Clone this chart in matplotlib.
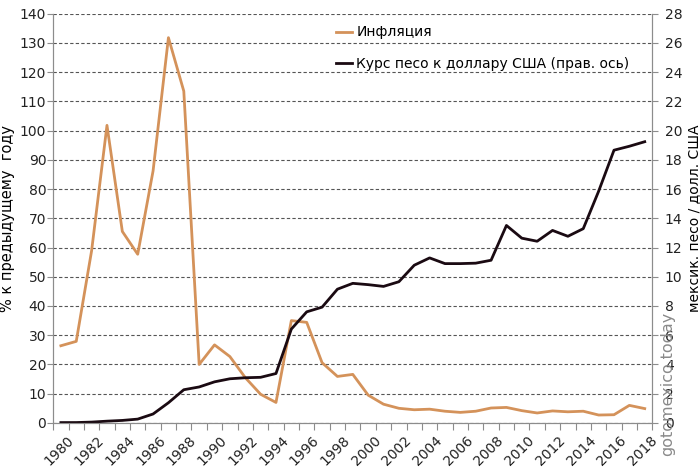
import numpy as np
import matplotlib
matplotlib.use('Agg')
import matplotlib.pyplot as plt

plt.rcParams['font.family'] = ['DejaVu Sans']

# данные
years = list(range(1980, 2019))
inflation = [26.4, 27.9, 58.9, 101.8, 65.5, 57.7, 86.2, 131.8, 113.5, 20.0,
             26.7, 22.7, 15.5, 9.8, 7.0, 35.0, 34.4, 20.6, 15.9, 16.6,
             9.5, 6.4, 5.0, 4.5, 4.7, 4.0, 3.6, 4.0, 5.1, 5.3,
             4.2, 3.4, 4.1, 3.8, 4.0, 2.7, 2.8, 6.0, 4.9]
peso_usd = [0.023, 0.025, 0.056, 0.12, 0.17, 0.26, 0.61, 1.38, 2.27, 2.46,
            2.81, 3.02, 3.09, 3.12, 3.38, 6.42, 7.6, 7.92, 9.15, 9.55,
            9.46, 9.34, 9.66, 10.79, 11.29, 10.9, 10.9, 10.93, 11.13, 13.51,
            12.64, 12.43, 13.17, 12.77, 13.29, 15.85, 18.66, 18.93, 19.24]

infl_color = '#D4925A'
rate_color = '#1A0A12'
spine_color = '#8C8C8C'

x = np.arange(len(years))

fig = plt.figure(figsize=(7, 4.72), dpi=100)
ax = fig.add_axes([0.076, 0.104, 0.856, 0.867])
ax2 = ax.twinx()

l1, = ax.plot(x, inflation, color=infl_color, lw=2, label='Инфляция')
l2, = ax2.plot(x, peso_usd, color=rate_color, lw=2,
               label='Курс песо к доллару США (прав. ось)')

ax.set_xlim(-0.5, len(years) - 0.5)
ax.set_ylim(0, 140)
ax.set_yticks(np.arange(0, 141, 10))
ax2.set_ylim(0, 28)
ax2.set_yticks(np.arange(0, 29, 2))

ax.yaxis.grid(True, ls=(0, (3, 2)), color='#555555', lw=0.8)
ax.set_axisbelow(True)

# деления между категориями, подписи через год
ax.set_xticks(np.arange(-0.5, len(years)), minor=False)
ax.set_xticklabels([])
ax.tick_params(axis='x', length=5, color=spine_color)
for i, yr in enumerate(years):
    if i % 2 == 0:
        ax.text(i + 0.35, -0.025, str(yr), transform=ax.get_xaxis_transform(),
                rotation=45, ha='right', va='top', rotation_mode='anchor',
                fontsize=10, color='#222222')

ax.tick_params(axis='y', labelsize=10, colors='#222222', length=4, pad=1,
               color=spine_color)
ax2.tick_params(axis='y', labelsize=10, colors='#222222', length=4, pad=5,
                color=spine_color)

for a in (ax, ax2):
    a.spines['top'].set_visible(False)
    for s in ('left', 'right', 'bottom'):
        a.spines[s].set_color(spine_color)

ax.set_ylabel('% к предыдущему  году', fontsize=10.5)
ax.yaxis.set_label_coords(-0.064, 0.5)
ax2.set_ylabel('мексик. песо / долл. США', fontsize=10)
ax2.yaxis.set_label_coords(1.058, 0.5)

ax.legend([l1, l2], [l1.get_label(), l2.get_label()], loc='upper left',
          bbox_to_anchor=(0.462, 0.985), borderaxespad=0, frameon=False,
          fontsize=10, handlelength=1.2, handletextpad=0.3, labelspacing=1.25)

fig.text(0.954, 0.186, 'gotomexico.today', rotation=90, fontsize=11.5,
         color='#8A8A8A', ha='center', va='center')

fig.savefig('out.png', dpi=100)
